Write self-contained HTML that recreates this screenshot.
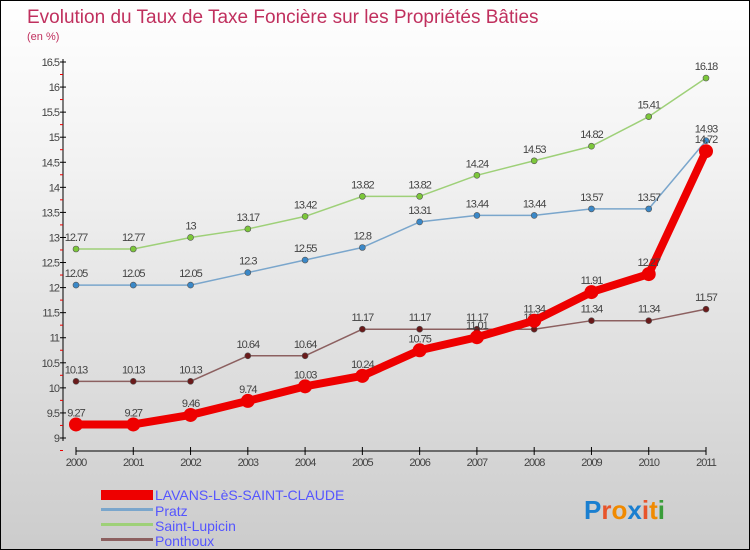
<!DOCTYPE html>
<html><head><meta charset="utf-8"><style>
body{margin:0}
#c{width:748px;height:548px;border:1px solid #000;background:linear-gradient(#fff,#f2f2f2 30%,#ccc);position:relative;overflow:hidden;font-family:"Liberation Sans",sans-serif}
</style></head><body>
<div id="c">
<svg id="s" width="748" height="548" style="position:absolute;left:0;top:0">
<text x="26" y="22" font-size="19" fill="#c0305e">Evolution du Taux de Taxe Foncière sur les Propriétés Bâties</text>
<text x="26" y="39" font-size="11" fill="#c0305e">(en %)</text>
<g id="ax"></g><g id="series"></g>
<g>
<rect x="100" y="489" width="52" height="10" fill="#e00"/>
<text x="154" y="499" font-size="14" fill="#55f">LAVANS-LèS-SAINT-CLAUDE</text>
<rect x="100" y="507" width="52" height="3" fill="#7aa6cc"/>
<text x="154" y="515" font-size="14" fill="#55f">Pratz</text>
<rect x="100" y="522" width="52" height="3" fill="#9ed078"/>
<text x="154" y="530" font-size="14" fill="#55f">Saint-Lupicin</text>
<rect x="100" y="537" width="52" height="3" fill="#8c6060"/>
<text x="154" y="545" font-size="14" fill="#55f">Ponthoux</text>
</g>
<text x="583" y="518" font-size="26" font-weight="bold" fill="#1a7fd0">P<tspan fill="#e8542a">r</tspan><tspan fill="#f08a00">o</tspan><tspan fill="#1a7fd0">x</tspan><tspan fill="#e8542a">i</tspan><tspan fill="#f08a00">t</tspan><tspan fill="#3a9d3a">i</tspan></text>
</svg>
</div>
<script>
const years=[2000,2001,2002,2003,2004,2005,2006,2007,2008,2009,2010,2011];
const yTicks=[9,9.5,10,10.5,11,11.5,12,12.5,13,13.5,14,14.5,15,15.5,16,16.5];
const lavans=[9.27,9.27,9.46,9.74,10.03,10.24,10.75,11.01,11.34,11.91,12.27,14.72];
const pratz=[12.05,12.05,12.05,12.3,12.55,12.8,13.31,13.44,13.44,13.57,13.57,14.93];
const lupicin=[12.77,12.77,13,13.17,13.42,13.82,13.82,14.24,14.53,14.82,15.41,16.18];
const ponthoux=[10.13,10.13,10.13,10.64,10.64,11.17,11.17,11.17,11.17,11.34,11.34,11.57];
const NS="http://www.w3.org/2000/svg";
const X=i=>75+i*(630/11);
const Y=v=>437-(v-9)*(376/7.5);
function mk(t,a,p){const e=document.createElementNS(NS,t);for(const k in a)e.setAttribute(k,a[k]);p.appendChild(e);return e;}
const ax=document.getElementById('ax');
let l=mk('line',{x1:62,y1:58,x2:62,y2:440,stroke:'#000'},ax);


l=mk('line',{x1:75,y1:450,x2:705,y2:450,stroke:'#000'},ax);


yTicks.forEach(v=>{
 const y=Y(v);
 mk('line',{x1:59,y1:y,x2:65,y2:y,stroke:'#000'},ax);
 mk('line',{x1:59,y1:y+12.5,x2:62,y2:y+12.5,stroke:'#e00'},ax);
 const t=mk('text',{x:58,y:y+4,'font-size':11,fill:'#444','text-anchor':'end','letter-spacing':'-1'},ax);
 t.textContent=String(v);
 
 
});
years.forEach((yr,i)=>{
 mk('line',{x1:X(i),y1:446,x2:X(i),y2:454,stroke:'#000'},ax);
 const t=mk('text',{x:X(i),y:465,'font-size':11,fill:'#444','text-anchor':'middle','letter-spacing':'-1'},ax);
 t.textContent=String(yr);
 
 
});
const sg=document.getElementById('series');
function draw(arr,name,color,w,r,dot){
 const g=mk('g',{},sg);
 
 
 const p=mk('polyline',{points:arr.map((v,i)=>X(i)+','+Y(v)).join(' '),fill:'none',stroke:color,'stroke-width':w,'stroke-linejoin':'round'},g);
 
 
 arr.forEach((v,i)=>{
  const c=mk('circle',{cx:X(i),cy:Y(v),r:r,fill:dot,stroke:'#555','stroke-width':r>5?0:0.6},g);
  
  
  const t=mk('text',{x:X(i),y:Y(v)-8,'font-size':11,fill:'#444','text-anchor':'middle','letter-spacing':'-1'},g);
  t.textContent=String(v);
  
  
 });
}
draw(ponthoux,'ponthoux','#8c6060',1.5,3,'#6a1a1a');
draw(lupicin,'saint-lupicin','#9ed078',1.5,3,'#7cc73a');
draw(pratz,'pratz','#7aa6cc',1.5,3,'#3a88c8');
draw(lavans,'lavans','#e00',8,7,'#e00');
</script>
</body></html>
